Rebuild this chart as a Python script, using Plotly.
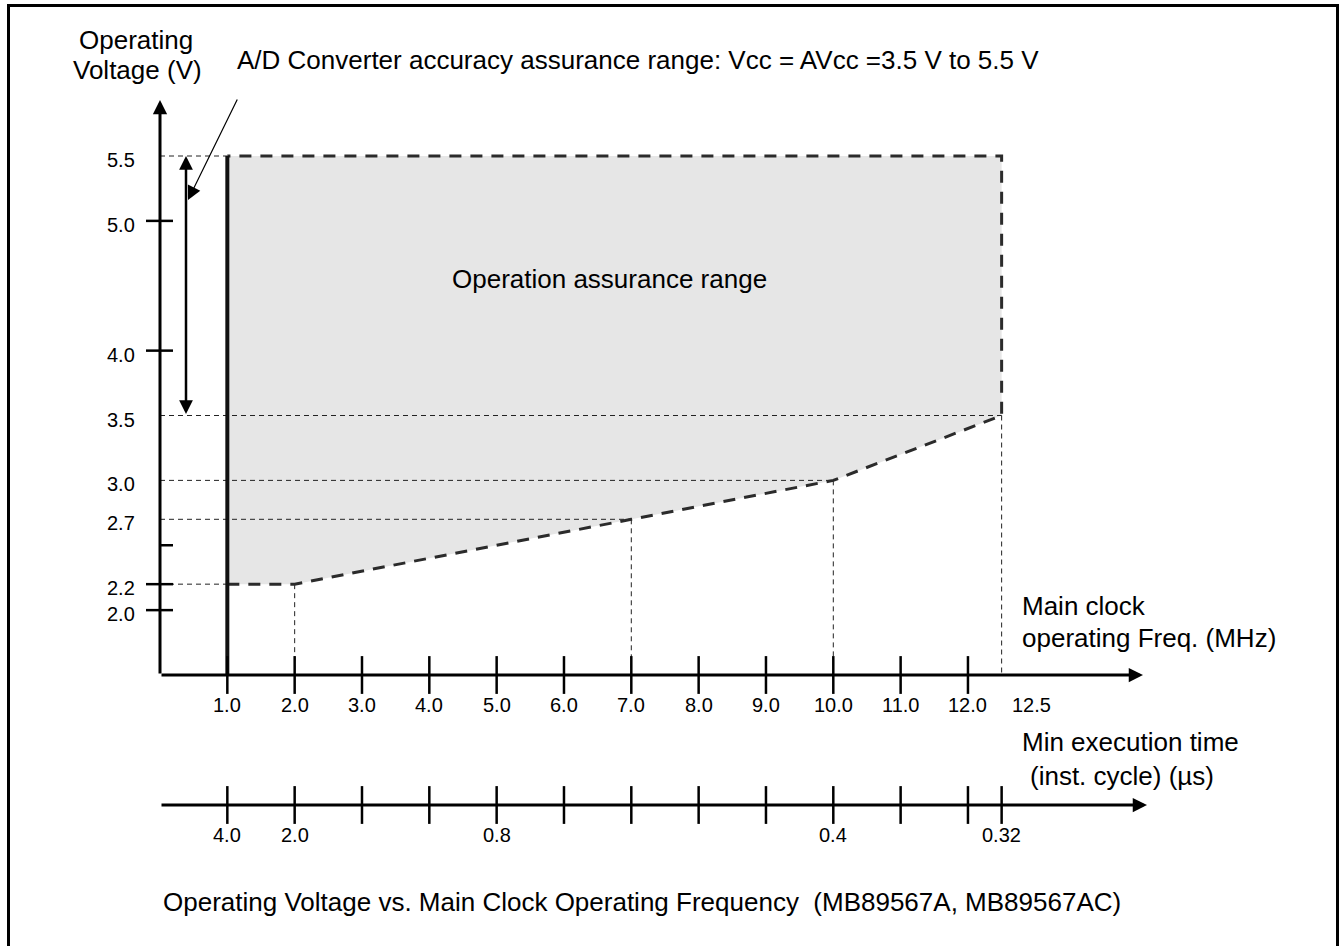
import plotly.graph_objects as go

# ---------------- data ----------------
corner_freq_mhz = [1.0, 2.0, 7.0, 10.0, 12.5]     # corners of the lower boundary (MHz)
corner_min_volt = [2.2, 2.2, 2.7, 3.0, 3.5]       # minimum operating voltage at each corner (V)
max_volt = 5.5                                    # upper limit of operation assurance range
ad_volt_range = [3.5, 5.5]                        # A/D converter accuracy assurance range

freq_tick_values = [1.0, 2.0, 3.0, 4.0, 5.0, 6.0, 7.0, 8.0, 9.0, 10.0, 11.0, 12.0]
freq_tick_labels = ["1.0", "2.0", "3.0", "4.0", "5.0", "6.0", "7.0", "8.0", "9.0", "10.0", "11.0", "12.0"]
freq_end_value = 12.5
freq_end_label = "12.5"

volt_label_values = [5.5, 5.0, 4.0, 3.5, 3.0, 2.7, 2.2, 2.0]
volt_label_texts = ["5.5", "5.0", "4.0", "3.5", "3.0", "2.7", "2.2", "2.0"]
volt_tick_values = [5.0, 4.0, 2.5, 2.2, 2.0]
volt_tick_through = [True, True, False, True, True]

exec_tick_freqs = [1.0, 2.0, 3.0, 4.0, 5.0, 6.0, 7.0, 8.0, 9.0, 10.0, 11.0, 12.0, 12.5]
exec_label_freqs = [1.0, 2.0, 5.0, 10.0, 12.5]
exec_label_texts = ["4.0", "2.0", "0.8", "0.4", "0.32"]

# ---------------- layout constants ----------------
W, H = 1340, 946
ORIGIN_PX = (160, 675)          # pixel position of the axes origin
ORIGIN_VAL = (0.0, 1.5)         # (MHz, V) at the origin
PX_PER_MHZ = 67.33
PX_PER_V = 129.75
EXEC_AXIS_PX = 805
FONT = "Liberation Sans, Arial, Helvetica, sans-serif"
TXT = 26
NUM = 20

x_range = [ORIGIN_VAL[0] - ORIGIN_PX[0] / PX_PER_MHZ, ORIGIN_VAL[0] + (W - ORIGIN_PX[0]) / PX_PER_MHZ]
y_range = [ORIGIN_VAL[1] - (H - ORIGIN_PX[1]) / PX_PER_V, ORIGIN_VAL[1] + ORIGIN_PX[1] / PX_PER_V]
AXIS_V = ORIGIN_VAL[1]
EXEC_AXIS_V = ORIGIN_VAL[1] - (EXEC_AXIS_PX - ORIGIN_PX[1]) / PX_PER_V


def px(x):
    return x / W


def py(y):
    return 1 - y / H


fig = go.Figure()

# shaded operation assurance range
poly_x = corner_freq_mhz + [corner_freq_mhz[-1], corner_freq_mhz[0], corner_freq_mhz[0]]
poly_y = corner_min_volt + [max_volt, max_volt, corner_min_volt[0]]
fig.add_trace(go.Scatter(x=poly_x, y=poly_y, mode="lines", fill="toself",
                         fillcolor="#e6e6e6", line=dict(width=0), hoverinfo="skip"))

# thin dashed reference lines
gx, gy = [], []
seen = set()
for f, v in zip(corner_freq_mhz, corner_min_volt):
    if v not in seen:
        seen.add(v)
        gx += [ORIGIN_VAL[0], f, None]
        gy += [v, v, None]
    gx += [f, f, None]
    gy += [v, AXIS_V, None]
gx += [ORIGIN_VAL[0], corner_freq_mhz[0], None]
gy += [max_volt, max_volt, None]
fig.add_trace(go.Scatter(x=gx, y=gy, mode="lines",
                         line=dict(color="#222222", width=1, dash="5px,4px"), hoverinfo="skip"))

# thick dashed boundary
bx = corner_freq_mhz + [corner_freq_mhz[-1], corner_freq_mhz[0]]
by = corner_min_volt + [max_volt, max_volt]
fig.add_trace(go.Scatter(x=bx, y=by, mode="lines",
                         line=dict(color="#2b2b2b", width=3, dash="12px,9px"), hoverinfo="skip"))

# solid left boundary
fig.add_trace(go.Scatter(x=[corner_freq_mhz[0], corner_freq_mhz[0]], y=[max_volt, AXIS_V], mode="lines",
                         line=dict(color="#111111", width=4), hoverinfo="skip"))

# tick marks on frequency axis
fig.add_trace(go.Scatter(x=freq_tick_values, y=[AXIS_V] * len(freq_tick_values), mode="markers",
                         marker=dict(symbol="line-ns", size=27, color="black",
                                     line=dict(color="black", width=2.5)), hoverinfo="skip"))
# tick marks on execution time axis
fig.add_trace(go.Scatter(x=exec_tick_freqs, y=[EXEC_AXIS_V] * len(exec_tick_freqs), mode="markers",
                         marker=dict(symbol="line-ns", size=27, color="black",
                                     line=dict(color="black", width=2.5)), hoverinfo="skip"))

shapes = []
# voltage tick marks
for v, through in zip(volt_tick_values, volt_tick_through):
    shapes.append(dict(type="line", xref="paper", yref="y",
                       x0=px(ORIGIN_PX[0] - 14 if through else ORIGIN_PX[0]), x1=px(ORIGIN_PX[0] + 13),
                       y0=v, y1=v, line=dict(color="black", width=2.5)))
# frame
shapes.append(dict(type="rect", xref="paper", yref="paper", x0=px(8.5), x1=px(1337.5),
                   y0=py(960), y1=py(5.5), line=dict(color="black", width=3)))

ann = []
arrow_common = dict(text="", showarrow=True, arrowhead=2, arrowcolor="black", standoff=0, startstandoff=0)
# axes with arrows
ann.append(dict(xref="paper", yref="paper", x=px(1143), y=py(ORIGIN_PX[1]), axref="pixel", ayref="pixel",
                ax=-(1143 - ORIGIN_PX[0]), ay=0, arrowwidth=3, arrowsize=0.95, **arrow_common))
ann.append(dict(xref="paper", yref="paper", x=px(ORIGIN_PX[0]), y=py(100), axref="pixel", ayref="pixel",
                ax=0, ay=ORIGIN_PX[1] - 100, arrowwidth=3, arrowsize=0.95, **arrow_common))
ann.append(dict(xref="paper", yref="paper", x=px(1147), y=py(EXEC_AXIS_PX), axref="pixel", ayref="pixel",
                ax=-(1147 - ORIGIN_PX[0]), ay=0, arrowwidth=3, arrowsize=0.95, **arrow_common))
# A/D double arrow
ann.append(dict(xref="paper", yref="y", x=px(186), y=ad_volt_range[1], axref="pixel", ayref="y",
                ax=0, ay=ad_volt_range[0], arrowwidth=2.5, arrowsize=1.1, arrowside="end+start",
                **arrow_common))
# pointer
ann.append(dict(xref="paper", yref="paper", x=px(188), y=py(200), axref="pixel", ayref="pixel",
                ax=50, ay=-102, arrowwidth=1.2, arrowsize=2.3, **arrow_common))

def label(text, x, y, size=TXT, xanchor="left", xref="paper", yref="paper", xshift=0, yshift=0):
    ann.append(dict(text=text, x=x, y=y, xref=xref, yref=yref, xanchor=xanchor, yanchor="middle",
                    showarrow=False, xshift=xshift, yshift=yshift, borderpad=0, borderwidth=0,
                    font=dict(family=FONT, size=size, color="black")))

# y labels
for v, t in zip(volt_label_values, volt_label_texts):
    label(t, px(135), v, size=NUM, xanchor="right", yref="y", yshift=-4)
# frequency labels
for f, t in zip(freq_tick_values, freq_tick_labels):
    label(t, f, AXIS_V, size=NUM, xanchor="center", xref="x", yref="y", yshift=-30)
label(freq_end_label, freq_end_value, AXIS_V, size=NUM, xanchor="center", xref="x", yref="y",
      xshift=30, yshift=-30)
# execution time labels
for f, t in zip(exec_label_freqs, exec_label_texts):
    label(t, f, EXEC_AXIS_V, size=NUM, xanchor="center", xref="x", yref="y", yshift=-30)

# texts
label("Operating", px(136), py(40), xanchor="center")
label("Voltage (V)", px(137), py(70), xanchor="center")
label("A/D Converter accuracy assurance range: Vcc = AVcc =3.5 V to 5.5 V", px(237), py(60))
label("Operation assurance range", px(609), py(279), xanchor="center")
label("Main clock", px(1022), py(606))
label("operating Freq. (MHz)", px(1022), py(638))
label("Min execution time", px(1022), py(742))
label("(inst. cycle) (\u00b5s)", px(1030), py(776))
label("Operating Voltage vs. Main Clock Operating Frequency\u00a0\u00a0(MB89567A, MB89567AC)", px(163), py(902))

fig.update_layout(
    width=W, height=H, autosize=False,
    margin=dict(l=0, r=0, t=0, b=0, pad=0),
    paper_bgcolor="white", plot_bgcolor="white",
    showlegend=False, hovermode=False,
    xaxis=dict(range=x_range, visible=False, fixedrange=True),
    yaxis=dict(range=y_range, visible=False, fixedrange=True),
    shapes=shapes, annotations=ann,
    font=dict(family=FONT, color="black"),
)

fig.write_html("out.html", config={"displayModeBar": False, "staticPlot": True},
               post_script="document.body.style.margin='0px';document.body.style.overflow='hidden';")
